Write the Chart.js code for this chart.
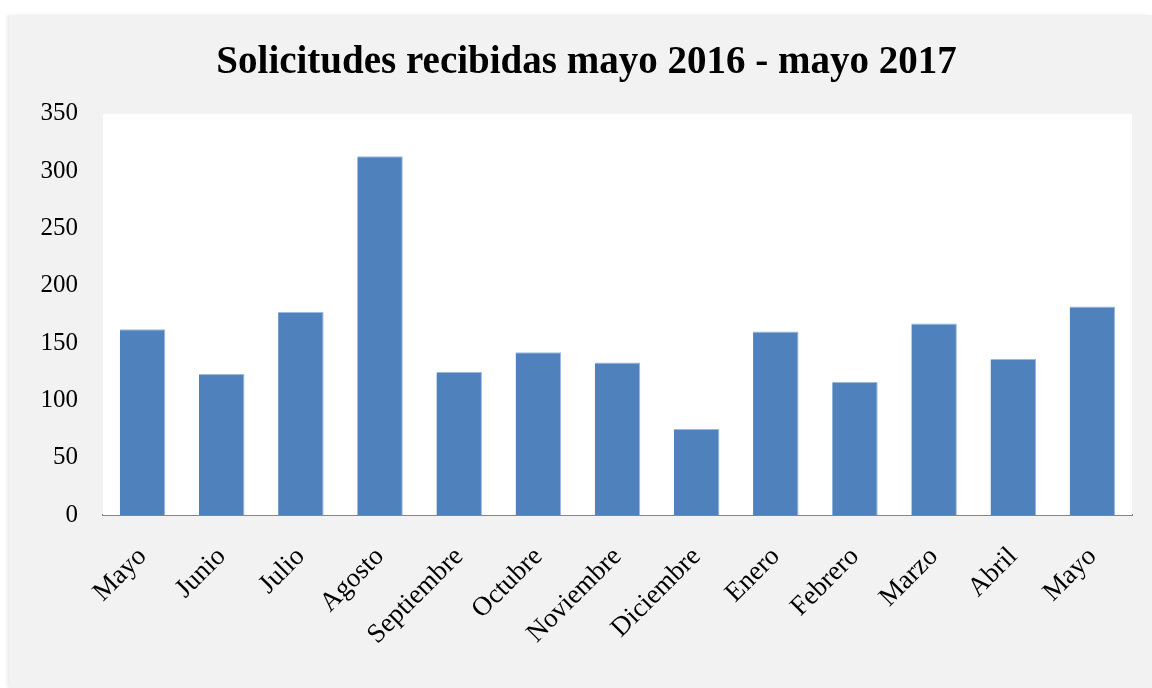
<!DOCTYPE html>
<html>
<head>
<meta charset="utf-8">
<script src="https://cdn.jsdelivr.net/npm/chart.js@4.4.1/dist/chart.umd.min.js"></script>
<style>
  html, body { margin: 0; padding: 0; background: #ffffff; }
  #wrap { position: absolute; left: 9px; top: 15px; width: 1143px; height: 673px; background: #f2f2f2; box-shadow: -2px 0 3px rgba(0,0,0,0.08); }
  canvas { display: block; }
</style>
</head>
<body>
<div id="wrap"><canvas id="c" width="1143" height="673"></canvas></div>
<script>
const titleText = "Solicitudes recibidas mayo 2016 - mayo 2017";
const categories = ["Mayo", "Junio", "Julio", "Agosto", "Septiembre", "Octubre", "Noviembre", "Diciembre", "Enero", "Febrero", "Marzo", "Abril", "Mayo"];
const solicitudes = [162, 123, 177, 313, 125, 142, 133, 75, 160, 116, 167, 136, 182];
const yTicks = [0, 50, 100, 150, 200, 250, 300, 350];

const plotBg = {
  id: 'plotBg',
  beforeDatasetsDraw(chart) {
    const a = chart.chartArea, ctx = chart.ctx;
    ctx.save();
    ctx.fillStyle = '#ffffff';
    ctx.fillRect(a.left, a.top, a.right - a.left, a.bottom - a.top);
    ctx.restore();
  }
};

new Chart(document.getElementById('c'), {
  type: 'bar',
  data: {
    labels: categories,
    datasets: [{
      data: solicitudes,
      backgroundColor: '#4f81bd',
      borderColor: '#9db9dc',
      borderWidth: {top: 1, left: 0, right: 1, bottom: 0},
      borderSkipped: 'bottom',
      categoryPercentage: 1,
      barPercentage: 0.575
    }]
  },
  options: {
    responsive: false,
    animation: false,
    devicePixelRatio: 1,
    layout: { padding: { left: 32, right: 20, top: 0, bottom: 0 } },
    plugins: {
      legend: { display: false },
      tooltip: { enabled: false },
      title: {
        display: true,
        text: titleText,
        color: '#000000',
        font: { family: "'Liberation Serif', serif", size: 39, weight: 'bold', lineHeight: 1.2 },
        padding: { top: 25, bottom: 27 }
      }
    },
    scales: {
      x: {
        grid: { display: false, drawTicks: false },
        border: { display: true, color: '#868686', width: 2 },
        ticks: {
          color: '#000000',
          font: { family: "'Liberation Serif', serif", size: 27 },
          maxRotation: 45,
          minRotation: 45,
          padding: 26,
          autoSkip: false
        },
        afterFit: s => { s.height = 173; }
      },
      y: {
        min: 0,
        max: 350,
        afterBuildTicks: s => { s.ticks = yTicks.map(v => ({ value: v })); },
        grid: { display: false, drawTicks: false },
        border: { display: false },
        ticks: {
          color: '#000000',
          font: { family: "'Liberation Serif', serif", size: 25 },
          padding: 25
        },
        afterFit: s => { s.width = 62; }
      }
    }
  },
  plugins: [plotBg]
});
</script>
</body>
</html>
